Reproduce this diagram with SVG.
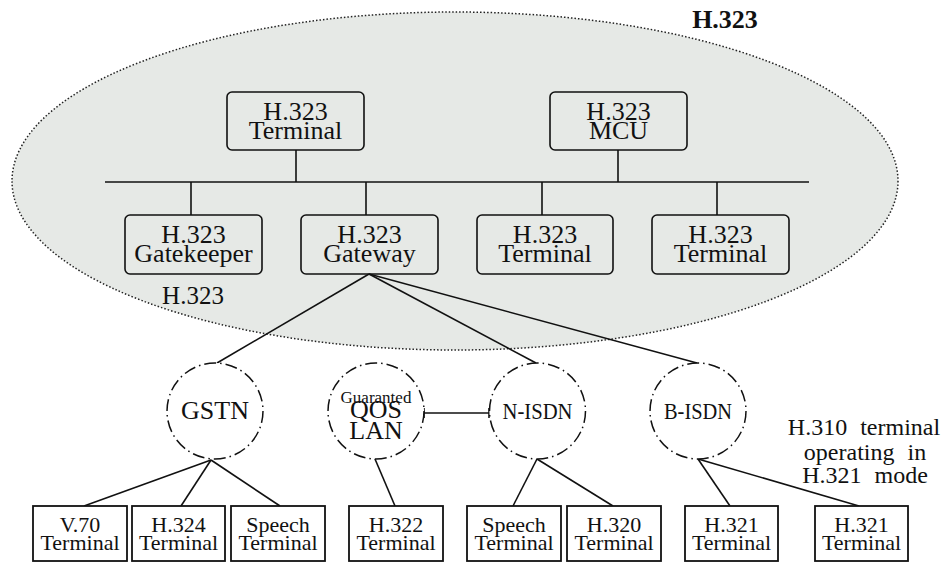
<svg xmlns="http://www.w3.org/2000/svg" width="949" height="563" viewBox="0 0 949 563" font-family="'Liberation Serif', 'Times New Roman', 'DejaVu Serif', serif">
<style>
text{font-family:"Liberation Serif","Times New Roman","DejaVu Serif",serif;fill:#111;text-anchor:middle}
.bx{fill:none;stroke:#111;stroke-width:1.6}
.sq{fill:#fff;stroke:#111;stroke-width:1.8}
.net{fill:#fff;stroke:#111;stroke-width:1.5;stroke-dasharray:12 4 1.5 4}
.ln{stroke:#111;stroke-width:1.6;fill:none}
.t1{font-size:26px}
.t2{font-size:22px}
.t3{font-size:24px}
.nt{font-size:24px;word-spacing:7px}
</style>
<rect width="949" height="563" fill="#fff"/>
<ellipse id="zone" cx="455" cy="181" rx="443" ry="169" fill="#e6e9e6" stroke="#222" stroke-width="1.5" stroke-dasharray="1.5 2"/>
<text x="725" y="28" style="font-size:26px;font-weight:bold">H.323</text>
<text x="193" y="304" style="font-size:25px">H.323</text>
<g id="connectors">
<line class="ln" x1="105" y1="182" x2="809" y2="182"/>
<line class="ln" x1="296" y1="150" x2="296" y2="182"/>
<line class="ln" x1="618" y1="150" x2="618" y2="182"/>
<line class="ln" x1="191" y1="182" x2="191" y2="215"/>
<line class="ln" x1="366" y1="182" x2="366" y2="215"/>
<line class="ln" x1="542" y1="182" x2="542" y2="215"/>
<line class="ln" x1="717" y1="182" x2="717" y2="215"/>
<line class="ln" x1="369" y1="274" x2="217" y2="363"/>
<line class="ln" x1="369" y1="274" x2="536" y2="363"/>
<line class="ln" x1="369" y1="274" x2="697" y2="363"/>
<line class="ln" x1="424" y1="413" x2="489" y2="413"/>
<line class="ln" x1="424" y1="408" x2="424" y2="418"/>
<line class="ln" x1="489" y1="408" x2="489" y2="418"/>
<line class="ln" x1="211" y1="460" x2="84" y2="506"/>
<line class="ln" x1="211" y1="460" x2="181" y2="506"/>
<line class="ln" x1="211" y1="460" x2="280" y2="506"/>
<line class="ln" x1="375" y1="459" x2="395" y2="506"/>
<line class="ln" x1="537" y1="459" x2="513" y2="506"/>
<line class="ln" x1="537" y1="459" x2="613" y2="506"/>
<line class="ln" x1="698" y1="459" x2="730" y2="506"/>
<line class="ln" x1="698" y1="459" x2="859" y2="506"/>
</g>
<g id="terminal-top">
<rect class="bx" x="227" y="92" width="137" height="58" rx="5"/>
<text class="t1" x="295.5" y="120">H.323</text>
<text class="t1" x="295.5" y="139">Terminal</text>
</g>
<g id="mcu">
<rect class="bx" x="550" y="92" width="137" height="58" rx="5"/>
<text class="t1" x="618.5" y="120">H.323</text>
<text class="t1" x="618.5" y="139">MCU</text>
</g>
<g id="gatekeeper">
<rect class="bx" x="125" y="215" width="137" height="59" rx="5"/>
<text class="t1" x="193.5" y="243">H.323</text>
<text class="t1" x="193.5" y="262">Gatekeeper</text>
</g>
<g id="gateway">
<rect class="bx" x="301" y="215" width="137" height="59" rx="5"/>
<text class="t1" x="369.5" y="243">H.323</text>
<text class="t1" x="369.5" y="262">Gateway</text>
</g>
<g id="terminal-a">
<rect class="bx" x="477" y="215" width="136" height="59" rx="5"/>
<text class="t1" x="545" y="243">H.323</text>
<text class="t1" x="545" y="262">Terminal</text>
</g>
<g id="terminal-b">
<rect class="bx" x="652" y="215" width="137" height="59" rx="5"/>
<text class="t1" x="720.5" y="243">H.323</text>
<text class="t1" x="720.5" y="262">Terminal</text>
</g>
<g id="gstn">
<circle class="net" cx="215" cy="411" r="48"/>
<text class="t1" x="215" y="419">GSTN</text>
</g>
<g id="qos-lan">
<circle class="net" cx="376" cy="411" r="48"/>
<text x="376" y="403" style="font-size:17px">Guaranted</text>
<text class="t1" x="376" y="418">QOS</text>
<text class="t1" x="376" y="439">LAN</text>
</g>
<g id="n-isdn">
<circle class="net" cx="537.5" cy="411" r="48"/>
<text class="t3" x="537.5" y="419" textLength="70" lengthAdjust="spacingAndGlyphs">N-ISDN</text>
</g>
<g id="b-isdn">
<circle class="net" cx="698" cy="411" r="48"/>
<text class="t3" x="698" y="419" textLength="68" lengthAdjust="spacingAndGlyphs">B-ISDN</text>
</g>
<text class="nt" x="864" y="435">H.310 terminal</text>
<text class="nt" x="865" y="460">operating in</text>
<text class="nt" x="865" y="483">H.321 mode</text>
<g id="v70">
<rect class="sq" x="33" y="506" width="94" height="55"/>
<text class="t2" x="80" y="532">V.70</text>
<text class="t2" x="80" y="550">Terminal</text>
</g>
<g id="h324">
<rect class="sq" x="132" y="506" width="93" height="55"/>
<text class="t2" x="178.5" y="532">H.324</text>
<text class="t2" x="178.5" y="550">Terminal</text>
</g>
<g id="speech-a">
<rect class="sq" x="231" y="506" width="94" height="55"/>
<text class="t2" x="278" y="532">Speech</text>
<text class="t2" x="278" y="550">Terminal</text>
</g>
<g id="h322">
<rect class="sq" x="349" y="506" width="94" height="55"/>
<text class="t2" x="396" y="532">H.322</text>
<text class="t2" x="396" y="550">Terminal</text>
</g>
<g id="speech-b">
<rect class="sq" x="467" y="506" width="94" height="55"/>
<text class="t2" x="514" y="532">Speech</text>
<text class="t2" x="514" y="550">Terminal</text>
</g>
<g id="h320">
<rect class="sq" x="567" y="506" width="94" height="55"/>
<text class="t2" x="614" y="532">H.320</text>
<text class="t2" x="614" y="550">Terminal</text>
</g>
<g id="h321-a">
<rect class="sq" x="685" y="506" width="93" height="55"/>
<text class="t2" x="731.5" y="532">H.321</text>
<text class="t2" x="731.5" y="550">Terminal</text>
</g>
<g id="h321-b">
<rect class="sq" x="815" y="506" width="93" height="55"/>
<text class="t2" x="861.5" y="532">H.321</text>
<text class="t2" x="861.5" y="550">Terminal</text>
</g>
</svg>
